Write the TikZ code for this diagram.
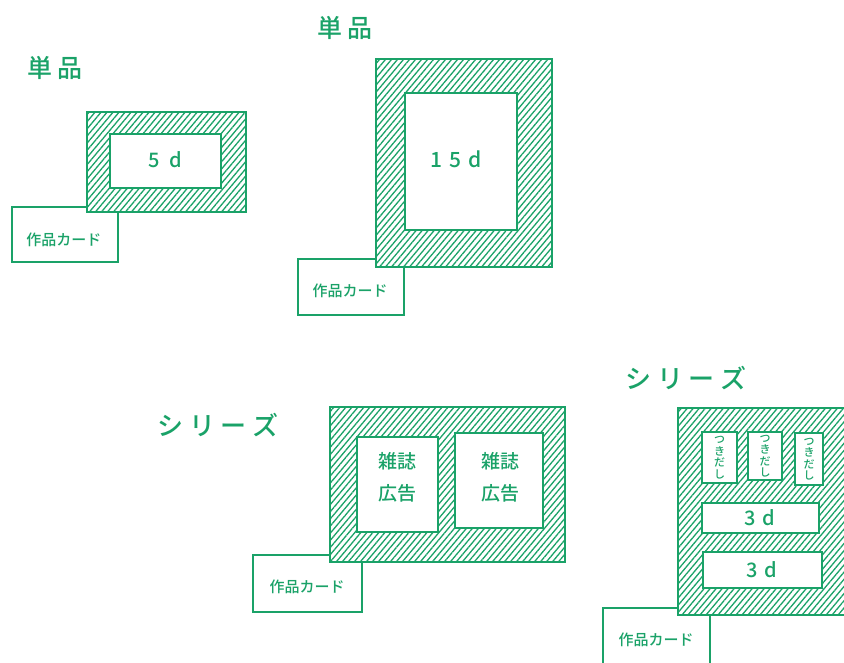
\documentclass[tikz,border=0pt]{standalone}
\usepackage{fontspec}
\newfontfamily\jp{Noto Sans CJK JP Medium}
\usetikzlibrary{patterns.meta}
\definecolor{gr}{RGB}{26,162,104}
\tikzset{
  hatchbox/.style={draw=gr, line width=2.6pt, preaction={fill=white}, pattern={Lines[angle=50,distance=4.6pt,line width=1.3pt]}, pattern color=gr},
  hole/.style={draw=gr, line width=2pt, fill=white},
  card/.style={draw=gr, line width=1.4pt, fill=white},
  lbl/.style={text=gr, font=\jp},
}
\begin{document}
\begin{tikzpicture}[x=1pt,y=-1pt]
\useasboundingbox (0,0) rectangle (844,662);
% group 1
\node[lbl, font=\jp\fontsize{25}{25}\selectfont] (t1) at (55,68) {単 品};
\draw[card] (12,207) rectangle (118,262);
\node[lbl, font=\jp\fontsize{15}{15}\selectfont] (c1) at (64,240) {作品カード};
\draw[hatchbox] (87,112) rectangle (246,212);
\draw[hole] (110,134) rectangle (221,188);
\node[lbl, font=\jp\fontsize{20}{20}\selectfont] (d1) at (165,160) {5\,\,\,d};
% group 2
\node[lbl, font=\jp\fontsize{25}{25}\selectfont] (t2) at (345,28) {単 品};
\draw[card] (298,259) rectangle (404,315);
\node[lbl, font=\jp\fontsize{15}{15}\selectfont] (c2) at (350,291) {作品カード};
\draw[hatchbox] (376,59) rectangle (552,267);
\draw[hole] (405,93) rectangle (517,230);
\node[lbl, font=\jp\fontsize{21}{21}\selectfont] (d2) at (456,159) {1\,\,5\,\,d};
% group 3
\node[lbl, font=\jp\fontsize{26}{26}\selectfont] (t3) at (218,425) {シ リ ー ズ};
\draw[card] (253,555) rectangle (362,612);
\node[lbl, font=\jp\fontsize{15}{15}\selectfont] (c3) at (307,587) {作品カード};
\draw[hatchbox] (330,407) rectangle (565,562);
\draw[hole] (357,437) rectangle (438,532);
\draw[hole] (455,433) rectangle (543,528);
\node[lbl, font=\jp\fontsize{19}{19}\selectfont, align=center] (m1) at (397,477) {雑誌\\[13pt]広告};
\node[lbl, font=\jp\fontsize{19}{19}\selectfont, align=center] (m2) at (500,477) {雑誌\\[13pt]広告};
% group 4
\node[lbl, font=\jp\fontsize{26}{26}\selectfont] (t4) at (686,378) {シ リ ー ズ};
\draw[card] (603,608) rectangle (710,668);
\node[lbl, font=\jp\fontsize{15}{15}\selectfont] (c4) at (656,640) {作品カード};
\draw[hatchbox] (678,408) rectangle (846,615);
\draw[hole] (702,432) rectangle (737,483);
\draw[hole] (748,432) rectangle (782,480);
\draw[hole] (795,433) rectangle (823,485);
\node[lbl, font=\jp\fontsize{11}{11.5}\selectfont, align=center] (k1) at (719.5,457.5) {つ\\き\\だ\\し};
\node[lbl, font=\jp\fontsize{11}{11.5}\selectfont, align=center] (k2) at (765,456) {つ\\き\\だ\\し};
\node[lbl, font=\jp\fontsize{11}{11.5}\selectfont, align=center] (k3) at (809,459) {つ\\き\\だ\\し};
\draw[hole] (702,503) rectangle (819,533);
\node[lbl, font=\jp\fontsize{20}{20}\selectfont] (e1) at (760,518) {3\,\,d};
\draw[hole] (703,552) rectangle (822,588);
\node[lbl, font=\jp\fontsize{20}{20}\selectfont] (e2) at (762,570) {3\,\,d};
\end{tikzpicture}
\end{document}
